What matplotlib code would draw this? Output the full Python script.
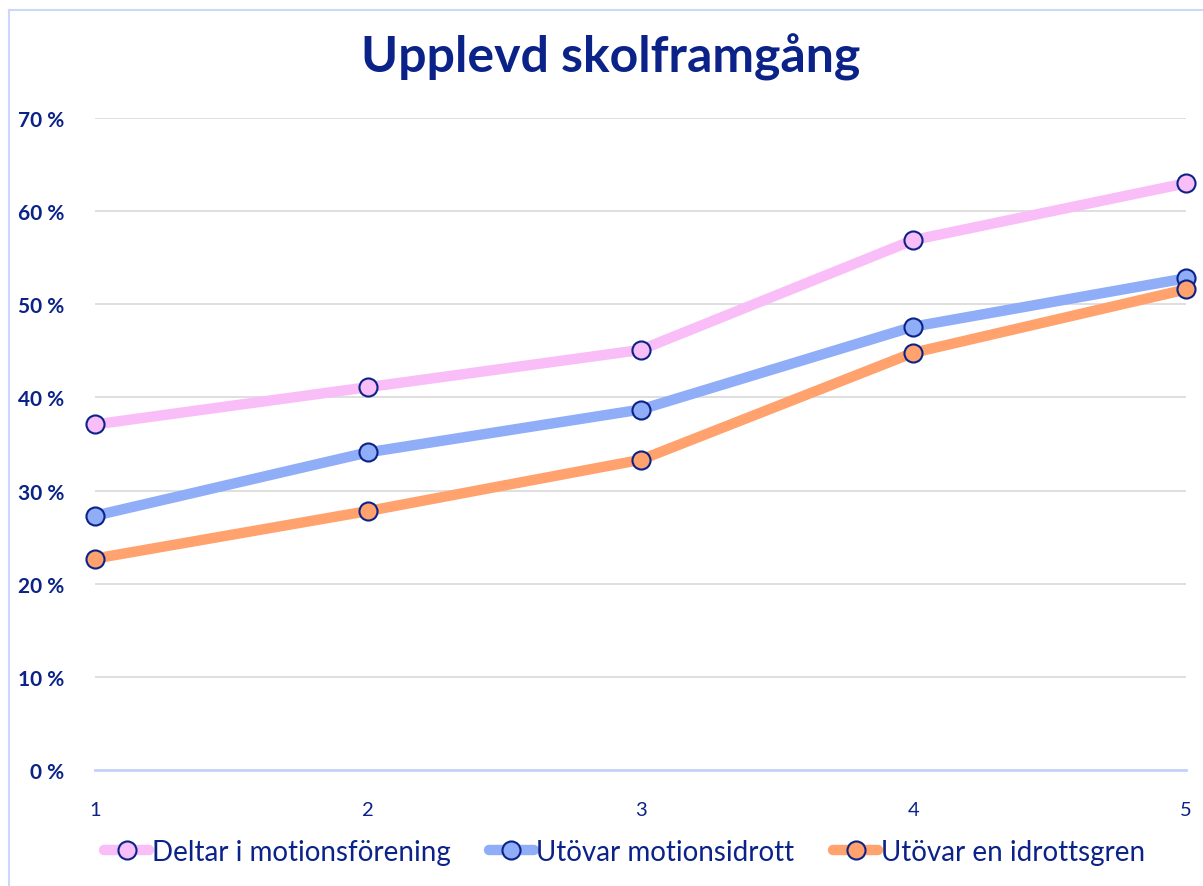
import matplotlib
matplotlib.use("Agg")
import matplotlib.pyplot as plt
from matplotlib.lines import Line2D

# values (percent)
steps = [1, 2, 3, 4, 5]
deltar = [37.1, 41.1, 45.1, 56.9, 63.0]
motionsidrott = [27.3, 34.1, 38.7, 47.6, 52.8]
idrottsgren = [22.7, 27.8, 33.3, 44.8, 51.6]
series_names = ["Deltar i motionsförening", "Utövar motionsidrott", "Utövar en idrottsgren"]
yticks = [0, 10, 20, 30, 40, 50, 60, 70]

navy = "#0B2288"
colors = ["#F9BDF7", "#8FAEF7", "#FFA26E"]

plt.rcParams["font.family"] = ["Lato", "DejaVu Sans"]

fig = plt.figure(figsize=(12.03, 8.87), dpi=100)
ax = fig.add_axes([0.079, 0.1308, 0.907, 0.735])

for vals, c, name in zip([deltar, motionsidrott, idrottsgren], colors, series_names):
    ax.plot(steps, vals, color=c, lw=7.5, solid_capstyle="butt", zorder=3,
            marker="o", markersize=13, markerfacecolor=c,
            markeredgecolor=navy, markeredgewidth=1.5, clip_on=False, label=name)

ax.set_xlim(1, 5)
ax.set_ylim(0, 70)
ax.set_xticks(steps)
ax.set_yticks(yticks)
ax.set_yticklabels([f"{v} %" for v in yticks])
ax.set_axisbelow(True)
ax.grid(axis="y", color="#D9D9D9", lw=1.2)
for name, s in ax.spines.items():
    s.set_visible(name == "bottom")
ax.spines["bottom"].set_color("#C4D3FA")
ax.spines["bottom"].set_linewidth(2)
ax.spines["bottom"].set_zorder(2)
ax.tick_params(length=0)
ax.tick_params(axis="y", pad=22, labelsize=15, labelcolor=navy)
ax.tick_params(axis="x", pad=22, labelsize=14.5, labelcolor=navy)
for lab in ax.get_yticklabels():
    lab.set_fontweight("bold")

fig.suptitle("Upplevd skolframgång", x=0.508, y=0.962, fontsize=36,
             fontweight="bold", color=navy)

handles = [Line2D([], [], color=c, lw=7.5, solid_capstyle="round", marker="o",
                  markersize=13, markerfacecolor=c, markeredgecolor=navy,
                  markeredgewidth=1.5) for c in colors]
leg = fig.legend(handles, series_names, loc="lower left", bbox_to_anchor=(0.066, -0.004),
                 ncol=3, frameon=False, fontsize=20, handlelength=1.6,
                 handletextpad=0.1, columnspacing=1.4)
for t in leg.get_texts():
    t.set_color(navy)

# light frame around the chart area (left and top edges visible)
fig.add_artist(Line2D([0.0072, 0.0072], [0, 0.988], color="#CCD8FA", lw=1.5,
                      transform=fig.transFigure))
fig.add_artist(Line2D([0.0072, 1], [0.988, 0.988], color="#CCD8FA", lw=1.5,
                      transform=fig.transFigure))

fig.savefig("out.png", dpi=100)
